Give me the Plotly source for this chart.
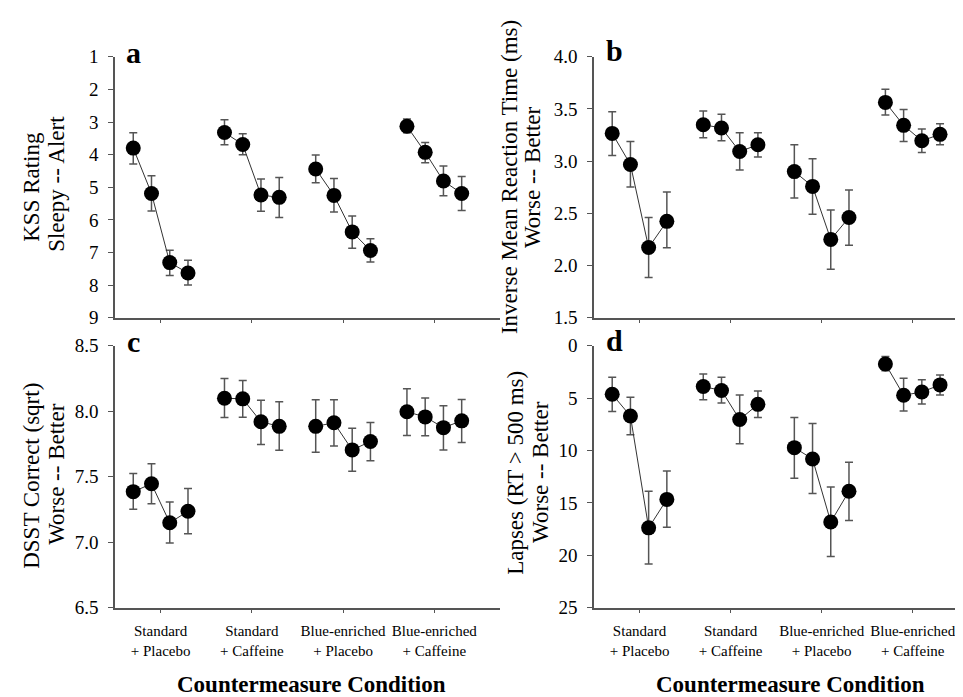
import plotly.graph_objects as go

# ---------------- data ----------------
conditions = ["Standard<br>+ Placebo", "Standard<br>+ Caffeine",
              "Blue-enriched<br>+ Placebo", "Blue-enriched<br>+ Caffeine"]

# Panel a: KSS rating (4 conditions x 4 time points)
kss_mean = [[3.80, 5.19, 7.31, 7.63],
            [3.32, 3.69, 5.24, 5.31],
            [4.44, 5.25, 6.37, 6.94],
            [3.13, 3.93, 4.81, 5.19]]
kss_lo = [[3.33, 4.65, 6.93, 7.24],
          [2.93, 3.36, 4.75, 4.70],
          [4.01, 4.73, 5.88, 6.58],
          [2.91, 3.63, 4.35, 4.67]]
kss_hi = [[4.29, 5.73, 7.71, 8.00],
          [3.70, 4.00, 5.74, 5.93],
          [4.86, 5.76, 6.87, 7.29],
          [3.33, 4.25, 5.26, 5.71]]

# Panel b: inverse mean reaction time
rt_mean = [[3.266, 2.968, 2.172, 2.423],
           [3.349, 3.318, 3.092, 3.157],
           [2.900, 2.758, 2.250, 2.460],
           [3.563, 3.343, 3.195, 3.257]]
rt_lo = [[3.055, 2.752, 1.884, 2.169],
         [3.225, 3.195, 2.916, 3.040],
         [2.646, 2.491, 1.965, 2.194],
         [3.442, 3.188, 3.083, 3.157]]
rt_hi = [[3.473, 3.188, 2.460, 2.705],
         [3.480, 3.449, 3.272, 3.272],
         [3.157, 3.024, 2.532, 2.724],
         [3.690, 3.495, 3.309, 3.359]]

# Panel c: DSST correct (sqrt)
dsst_mean = [[7.386, 7.446, 7.149, 7.236],
             [8.100, 8.095, 7.920, 7.885],
             [7.885, 7.912, 7.705, 7.769],
             [7.996, 7.957, 7.875, 7.927]]
dsst_lo = [[7.251, 7.293, 6.994, 7.065],
           [7.952, 7.954, 7.747, 7.702],
           [7.688, 7.735, 7.542, 7.623],
           [7.816, 7.814, 7.705, 7.762]]
dsst_hi = [[7.525, 7.599, 7.307, 7.411],
           [8.251, 8.236, 8.085, 8.073],
           [8.088, 8.088, 7.870, 7.915],
           [8.172, 8.101, 8.043, 8.090]]

# Panel d: lapses (RT > 500 ms)
lapse_mean = [[4.63, 6.70, 17.38, 14.66],
              [3.89, 4.26, 7.04, 5.59],
              [9.72, 10.80, 16.82, 13.89],
              [1.73, 4.72, 4.41, 3.73]]
lapse_lo = [[2.99, 4.91, 13.89, 11.94],
            [2.69, 2.99, 4.69, 4.32],
            [6.85, 7.41, 13.49, 11.11],
            [1.02, 3.09, 3.24, 2.78]]
lapse_hi = [[6.27, 8.49, 20.83, 17.31],
            [5.15, 5.46, 9.35, 6.85],
            [12.65, 14.10, 20.12, 16.67],
            [2.38, 6.23, 5.56, 4.69]]

kss_ticks = [1, 2, 3, 4, 5, 6, 7, 8, 9]
rt_ticks = [1.5, 2.0, 2.5, 3.0, 3.5, 4.0]
dsst_ticks = [6.5, 7.0, 7.5, 8.0, 8.5]
lapse_ticks = [0, 5, 10, 15, 20, 25]

# ---------------- figure ----------------
W, H = 963, 697
FONT = "Liberation Serif, Times New Roman, serif"
offsets = [-0.3, -0.1, 0.1, 0.3]

fig = go.Figure()

panels = [
    ("x", "y", kss_mean, kss_lo, kss_hi),
    ("x2", "y2", rt_mean, rt_lo, rt_hi),
    ("x3", "y3", dsst_mean, dsst_lo, dsst_hi),
    ("x4", "y4", lapse_mean, lapse_lo, lapse_hi),
]

for xa, ya, mean, lo, hi in panels:
    for ci in range(4):
        xs = [ci + 1 + o for o in offsets]
        m = mean[ci]
        plus = [max(l, h) - v for v, l, h in zip(m, lo[ci], hi[ci])]
        minus = [v - min(l, h) for v, l, h in zip(m, lo[ci], hi[ci])]
        fig.add_trace(go.Scatter(
            x=xs, y=m, xaxis=xa, yaxis=ya, mode="lines+markers",
            line=dict(color="#333333", width=1),
            marker=dict(size=15, color="black", line=dict(width=0)),
            error_y=dict(type="data", array=plus, arrayminus=minus,
                         color="#555555", thickness=1.5, width=4, symmetric=False),
            showlegend=False, hoverinfo="skip"))

def px_x(p):
    return p / W

def px_y(p):
    return 1 - p / H

axis_common = dict(showline=True, linecolor="#555555", linewidth=1.5,
                   ticks="outside", tickcolor="#555555", tickwidth=1.2,
                   showgrid=False, zeroline=False)

xa_dom_left = [px_x(107), px_x(492)]
xa_dom_right = [px_x(586), px_x(963)]
ya_dom_top = [px_y(309), px_y(40)]
ya_dom_bot = [px_y(608), px_y(338)]

def xaxis(dom, rng, labels, anchor):
    d = dict(axis_common)
    d.update(domain=dom, range=rng, anchor=anchor, tickmode="array",
             tickvals=[1, 2, 3, 4], ticklen=4, ticklabelstandoff=5,
             ticktext=conditions if labels else ["", "", "", ""],
             tickfont=dict(family=FONT, size=15, color="black"))
    return d

def yaxis(dom, rng, ticks, anchor, fmt):
    d = dict(axis_common)
    d.update(domain=dom, range=rng, anchor=anchor, tickmode="array",
             tickvals=ticks, ticktext=[fmt.format(t) for t in ticks], ticklen=5,
             ticklabelstandoff=6,
             tickfont=dict(family=FONT, size=19, color="black"))
    return d

fig.update_layout(
    width=W, height=H, margin=dict(l=0, r=0, t=0, b=0),
    plot_bgcolor="white", paper_bgcolor="white",
    xaxis=xaxis(xa_dom_left, [0.5, 4.72], False, "y"),
    xaxis2=xaxis(xa_dom_right, [0.5, 4.64], False, "y2"),
    xaxis3=xaxis(xa_dom_left, [0.5, 4.72], True, "y3"),
    xaxis4=xaxis(xa_dom_right, [0.5, 4.64], True, "y4"),
    yaxis=yaxis(ya_dom_top, [9, 1], kss_ticks, "x", "{:d}"),
    yaxis2=yaxis(ya_dom_top, [1.5, 4.0], rt_ticks, "x2", "{:.1f}"),
    yaxis3=yaxis(ya_dom_bot, [6.5, 8.5], dsst_ticks, "x3", "{:.1f}"),
    yaxis4=yaxis(ya_dom_bot, [25, 0], lapse_ticks, "x4", "{:d}"),
)

ann = []
def text(x, y, s, size, bold=False, angle=0):
    ann.append(dict(x=px_x(x), y=px_y(y), xref="paper", yref="paper",
                    text=f"<b>{s}</b>" if bold else s, showarrow=False,
                    textangle=angle, xanchor="center", yanchor="middle",
                    font=dict(family=FONT, size=size, color="black")))

# y-axis titles (each line placed separately)
text(24, 174, "KSS Rating", 23, angle=-90)
text(49, 171, "Sleepy -- Alert", 23, angle=-90)
text(501, 164, "Inverse Mean Reaction Time (ms)", 23, angle=-90)
text(524, 164, "Worse -- Better", 23, angle=-90)
text(24, 472, "DSST Correct (sqrt)", 23, angle=-90)
text(49, 470, "Worse -- Better", 23, angle=-90)
text(508, 469, "Lapses (RT &gt; 500 ms)", 23, angle=-90)
text(533, 468, "Worse -- Better", 23, angle=-90)

# x-axis titles
text(303, 687, "Countermeasure Condition", 23, bold=True)
text(782, 687, "Countermeasure Condition", 23, bold=True)

# panel letters
text(126, 36, "a", 30, bold=True)
text(606, 34, "b", 30, bold=True)
text(125, 334, "c", 30, bold=True)
text(606, 333, "d", 30, bold=True)

fig.update_layout(annotations=ann)
fig.write_html("out.html")
